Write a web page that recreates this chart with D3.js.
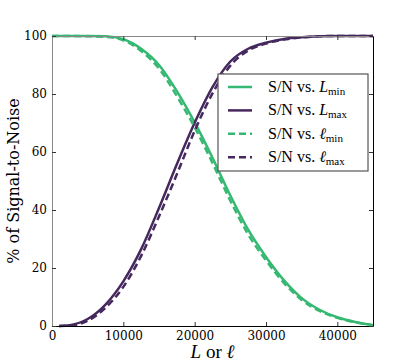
<!DOCTYPE html>
<html>
<head>
<meta charset="utf-8">
<script src="https://cdn.jsdelivr.net/npm/d3@7"></script>
<style>
  body { margin: 0; background: #fff; }
  svg text { font-family: "DejaVu Serif", serif; }
</style>
</head>
<body>
<div id="chart"></div>
<script>
"use strict";

// L (or ell) sample points
const lValues = [0, 1000, 2500, 5000, 7500, 10000, 12500, 15000, 17500, 20000, 22500,
  25000, 27500, 30000, 32500, 35000, 37500, 40000, 42500, 45000];

// % of signal-to-noise (null = not drawn)
const snLmin = [100, 100, 100, 100, 99.9, 98.9, 95.6, 90.0, 81.0, 70.2, 58.0,
  45.0, 33.2, 23.8, 15.8, 9.6, 5.6, 3.0, 1.4, 0.3];
const snLmax = [null, 0, 0.3, 2.4, 7.4, 15.4, 26.5, 40.7, 55.8, 70.1, 82.4,
  91.2, 95.6, 97.7, 99.0, 99.6, 99.9, 100, 100, 100];
const snEllMin = [100, 100, 100, 99.9, 99.7, 98.5, 94.8, 88.8, 79.3, 68.5, 56.2,
  43.2, 31.6, 22.6, 14.9, 9.0, 5.2, 2.8, 1.3, 0.3];
const snEllMax = [null, 0, 0.1, 1.8, 6.3, 13.5, 24.2, 37.8, 52.3, 67.3, 80.2,
  89.8, 95.0, 97.4, 98.8, 99.5, 99.9, 100, 100, 100];

const xTicks = [0, 10000, 20000, 30000, 40000];
const yTicks = [0, 20, 40, 60, 80, 100];

const green = "#35b872";
const purple = "#45285e";

const series = [
  { name: "L", sub: "min", values: snLmin, color: green, dash: null },
  { name: "L", sub: "max", values: snLmax, color: purple, dash: null },
  { name: "\u2113", sub: "min", values: snEllMin, color: green, dash: "7,4" },
  { name: "\u2113", sub: "max", values: snEllMax, color: purple, dash: "7,4" },
];

const width = 415, height = 363;
const margin = { top: 36, right: 42, bottom: 37, left: 52 };
const serif = "'DejaVu Serif', serif";
const mathSerif = "'Liberation Serif', serif";

const svg = d3.select("#chart").append("svg")
  .attr("width", width).attr("height", height);

const x = d3.scaleLinear().domain([0, 45000]).range([margin.left, width - margin.right]);
const y = d3.scaleLinear().domain([0, 100]).range([height - margin.bottom, margin.top]);

// curves
const line = d3.line()
  .defined((d) => d[1] != null)
  .x((d) => x(d[0]))
  .y((d) => y(d[1]))
  .curve(d3.curveMonotoneX);

svg.append("g")
  .selectAll("path")
  .data(series)
  .join("path")
  .attr("fill", "none")
  .attr("stroke", (d) => d.color)
  .attr("stroke-width", 2.5)
  .attr("stroke-dasharray", (d) => d.dash)
  .attr("d", (d) => line(lValues.map((l, i) => [l, d.values[i]])));

// axes: ticks pointing inward, on all four sides
const x0 = x.range()[0], x1 = x.range()[1];
const y0 = y.range()[0], y1 = y.range()[1];

svg.append("g")
  .attr("transform", `translate(0,${y0})`)
  .call(d3.axisBottom(x).tickValues(xTicks).tickFormat(d3.format("d"))
    .tickSizeInner(-4).tickSizeOuter(0).tickPadding(5))
  .call((g) => g.select(".domain").attr("stroke", "#000"));

svg.append("g")
  .attr("transform", `translate(0,${y1})`)
  .call(d3.axisTop(x).tickValues(xTicks).tickSizeInner(-4).tickSizeOuter(0).tickFormat(""))
  .call((g) => g.select(".domain").attr("stroke", "#888"));

svg.append("g")
  .attr("transform", `translate(${x0},0)`)
  .call(d3.axisLeft(y).tickValues(yTicks).tickSizeInner(-4).tickSizeOuter(0).tickPadding(5))
  .call((g) => g.select(".domain").attr("stroke", "#888"));

svg.append("g")
  .attr("transform", `translate(${x1},0)`)
  .call(d3.axisRight(y).tickValues(yTicks).tickSizeInner(-4).tickSizeOuter(0).tickFormat(""))
  .call((g) => g.select(".domain").attr("stroke", "#000"));

svg.selectAll(".tick text")
  .style("font-family", serif)
  .attr("font-size", 12)
  .attr("fill", "#000");
svg.selectAll(".tick line").attr("stroke", "#333");

// axis labels
svg.append("text")
  .attr("transform", `translate(19,${(y0 + y1) / 2}) rotate(-90)`)
  .attr("text-anchor", "middle")
  .style("font-family", serif)
  .attr("font-size", 16)
  .text("% of Signal-to-Noise");

const xl = svg.append("text")
  .attr("x", (x0 + x1) / 2)
  .attr("y", 358)
  .attr("text-anchor", "middle")
  .style("font-family", mathSerif)
  .attr("font-size", 19);
xl.append("tspan").attr("font-style", "italic").text("L");
xl.append("tspan").text(" or ");
xl.append("tspan").attr("font-style", "italic").text("\u2113");

// legend
const legend = svg.append("g").attr("transform", "translate(218,74)");
legend.append("rect")
  .attr("width", 150).attr("height", 97)
  .attr("fill", "#fff").attr("stroke", "#555").attr("stroke-width", 1.2);

const item = legend.selectAll("g.item")
  .data(series)
  .join("g")
  .attr("class", "item")
  .attr("transform", (d, i) => `translate(0,${13 + i * 23.4})`);

item.append("line")
  .attr("x1", 10).attr("x2", 34)
  .attr("stroke", (d) => d.color)
  .attr("stroke-width", 2.5)
  .attr("stroke-dasharray", (d) => d.dash);

const label = item.append("text")
  .attr("x", 50).attr("y", 5)
  .style("font-family", mathSerif)
  .attr("font-size", 16);
label.append("tspan").text("S/N vs. ");
label.append("tspan").attr("font-style", "italic").text((d) => d.name);
label.append("tspan").attr("font-size", 11).attr("dy", 3).text((d) => d.sub);
</script>
</body>
</html>
